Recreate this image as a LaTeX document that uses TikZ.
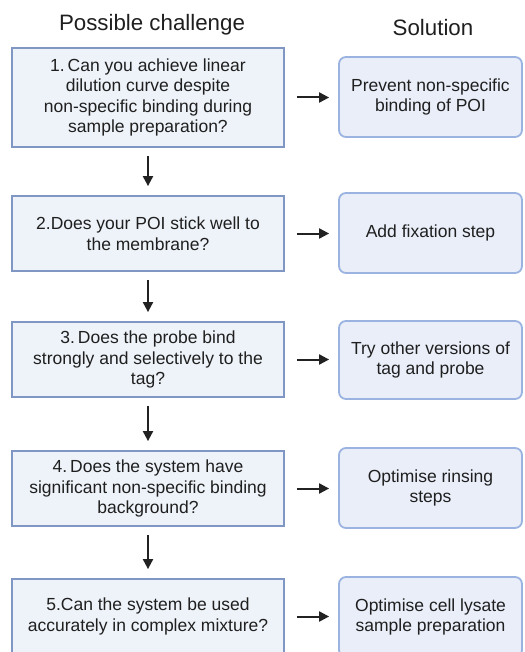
\documentclass[tikz,border=0pt]{standalone}
\usepackage{fontspec}
\setmainfont{Liberation Sans}
\usetikzlibrary{arrows.meta}
\definecolor{qfill}{HTML}{EEF3F9}
\definecolor{qdraw}{HTML}{8097C3}
\definecolor{sfill}{HTML}{E9EEF9}
\definecolor{sdraw}{HTML}{9BB3E0}
\definecolor{arr}{HTML}{222222}
\begin{document}
\begin{tikzpicture}[x=1pt,y=-1pt,
  qbox/.style={draw=qdraw,fill=qfill,line width=1.8pt,minimum width=272pt,inner sep=0pt,align=center,font=\fontsize{17.5}{20.5}\selectfont,text=black!88},
  sbox/.style={draw=sdraw,fill=sfill,line width=1.8pt,rounded corners=7pt,minimum width=183pt,inner sep=0pt,align=center,font=\fontsize{17.5}{20.5}\selectfont,text=black!88},
  title/.style={font=\fontsize{22.3}{24}\selectfont,text=black!88},
  flow/.style={draw=arr,line width=2pt,-{Triangle[length=10pt,width=10pt]}}]
\useasboundingbox (0,0) rectangle (524,652);
\clip (0,0) rectangle (524,652);
\fill[white] (0,0) rectangle (524,652);
\node[title] (t1) at (152,25) {Possible challenge};
\node[title] (t2) at (433,28) {Solution};
\node[qbox,minimum height=99pt] (b1) at (148,97.5) {1.\,Can you achieve linear\\ dilution curve despite\\ non-specific binding during\\ sample preparation?};
\node[qbox,minimum height=75pt] (b2) at (148,233.5) {2.Does your POI stick well to\\ the membrane?};
\node[qbox,minimum height=75pt] (b3) at (148,359.5) {3.\,Does the probe bind\\ strongly and selectively to the\\ tag?};
\node[qbox,minimum height=75pt] (b4) at (148,488.5) {4.\,Does the system have\\ significant non-specific binding\\ background?};
\node[qbox,minimum height=75pt] (b5) at (148,616.5) {5.Can the system be used\\ accurately in complex mixture?};
\node[sbox,minimum height=80pt] (s1) at (430.5,97) {Prevent non-specific\\ binding of POI};
\node[sbox,minimum height=80pt] (s2) at (430.5,233) {Add fixation step};
\node[sbox,minimum height=78pt] (s3) at (430.5,360) {Try other versions of\\ tag and probe};
\node[sbox,minimum height=80pt] (s4) at (430.5,488) {Optimise rinsing\\ steps};
\node[sbox,minimum height=80pt] (s5) at (430.5,617) {Optimise cell lysate\\ sample preparation};
\foreach \i in {1,...,5}{
  \draw[flow,shorten <=12pt,shorten >=9pt] (b\i.east) -- (b\i.east -| s\i.west);
}
\foreach \i/\j in {1/2,2/3,3/4,4/5}{
  \draw[flow,shorten <=8pt,shorten >=9pt] (b\i.south) -- (b\j.north);
}
\end{tikzpicture}
\end{document}
